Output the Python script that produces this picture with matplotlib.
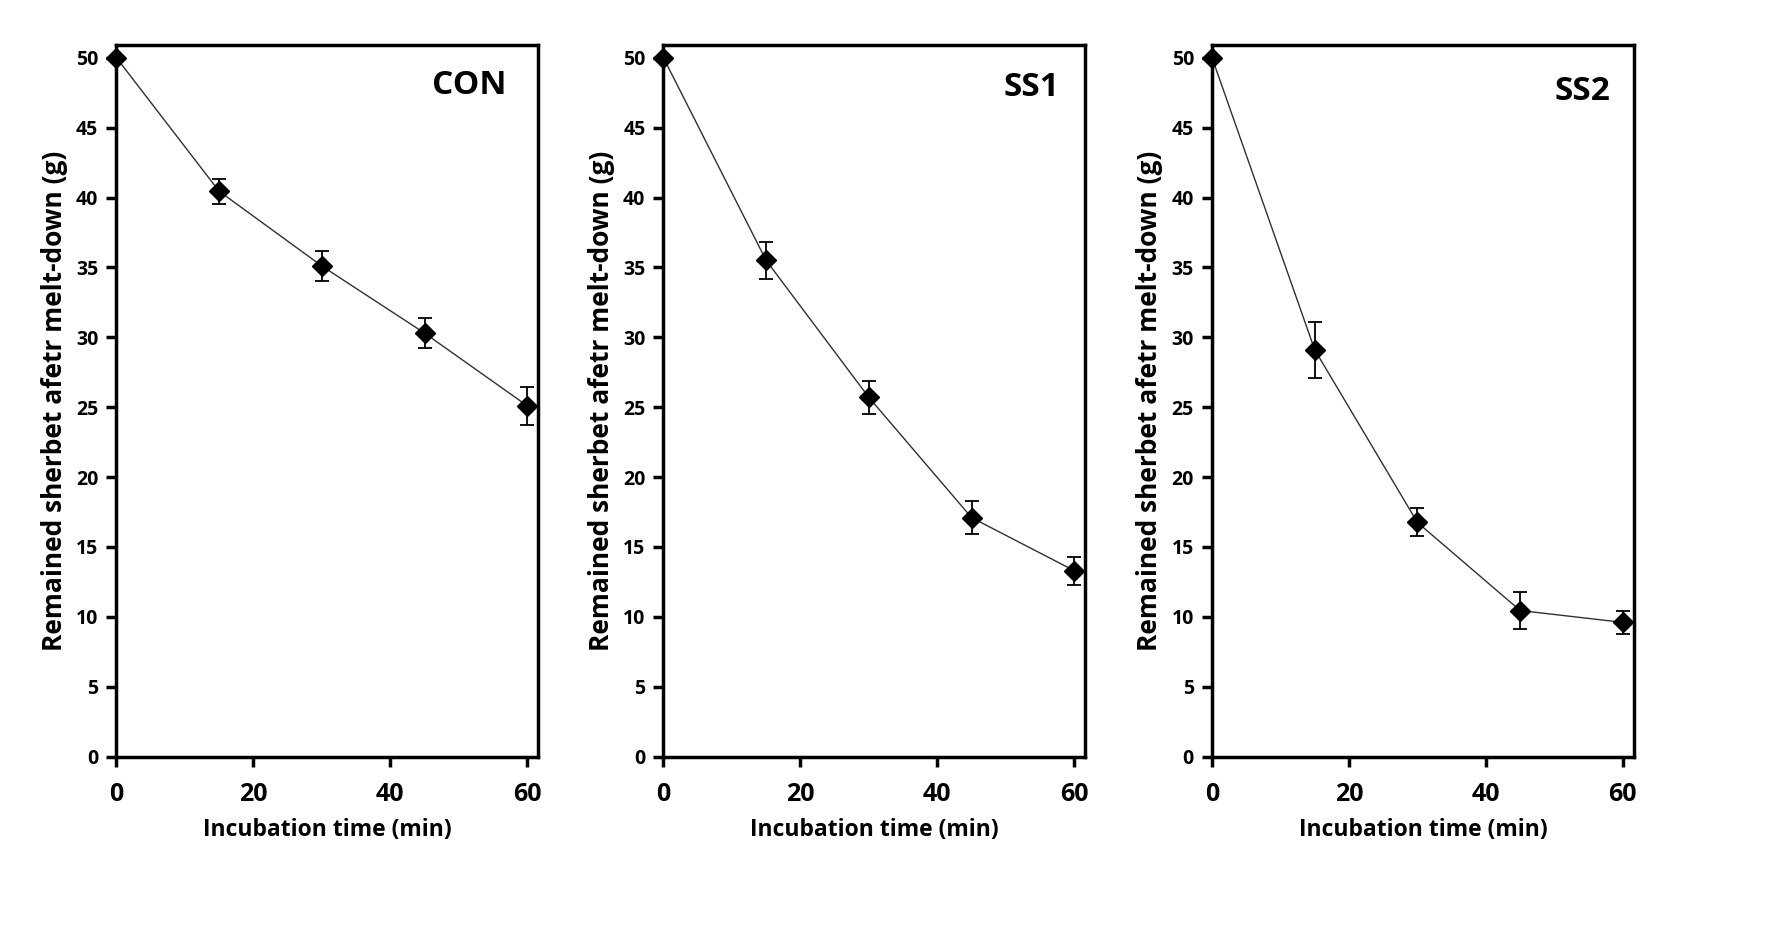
import numpy as np
import matplotlib.pyplot as plt

plt.rcParams['font.family'] = ['Open Sans', 'DejaVu Sans']
plt.rcParams['font.weight'] = 'bold'

time = [0, 15, 30, 45, 60]
names = ['CON', 'SS1', 'SS2']
con = [50, 40.45, 35.1, 30.3, 25.1]
con_err = [0, 0.9, 1.05, 1.1, 1.35]
ss1 = [50, 35.5, 25.7, 17.1, 13.3]
ss1_err = [0, 1.3, 1.2, 1.2, 1.0]
ss2 = [50, 29.1, 16.75, 10.45, 9.6]
ss2_err = [0, 2.0, 1.0, 1.3, 0.8]

values = [con, ss1, ss2]
errors = [con_err, ss1_err, ss2_err]

fig = plt.figure(figsize=(17.72, 9.41), dpi=100)
lefts = [0.0657, 0.3744, 0.684]
width = 0.238
label_pos = [(0.836, 0.944), (0.872, 0.94), (0.878, 0.935)]

for i in range(3):
    ax = fig.add_axes([lefts[i], 0.196, width, 0.756])
    ax.errorbar(time, values[i], yerr=errors[i], color='#303030', lw=1.0,
                marker='D', markersize=10, markerfacecolor='black', markeredgecolor='black',
                ecolor='black', elinewidth=1.3, capsize=5, capthick=1.3, clip_on=False, zorder=3)
    ax.set_xlim(0, 61.6)
    ax.set_ylim(0, 50.9)
    ax.set_xticks([0, 20, 40, 60])
    ax.set_yticks(np.arange(0, 51, 5))
    for s in ax.spines.values():
        s.set_linewidth(2.5)
    ax.tick_params(axis='x', direction='out', length=7, width=2.5, labelsize=18, pad=11)
    ax.tick_params(axis='y', direction='out', length=7, width=2.5, labelsize=14, pad=6)
    for lab in ax.get_xticklabels() + ax.get_yticklabels():
        lab.set_fontweight('bold')
    ax.set_ylabel('Remained sherbet afetr melt-down (g)', fontsize=19, fontweight='bold', labelpad=6)
    ax.set_xlabel('Incubation time (min)', fontsize=16.5, fontweight='bold', labelpad=8)
    ax.text(label_pos[i][0], label_pos[i][1], names[i], transform=ax.transAxes,
            fontsize=24, fontweight='bold', ha='center', va='center')

fig.savefig('out.png', dpi=100, facecolor='white')
